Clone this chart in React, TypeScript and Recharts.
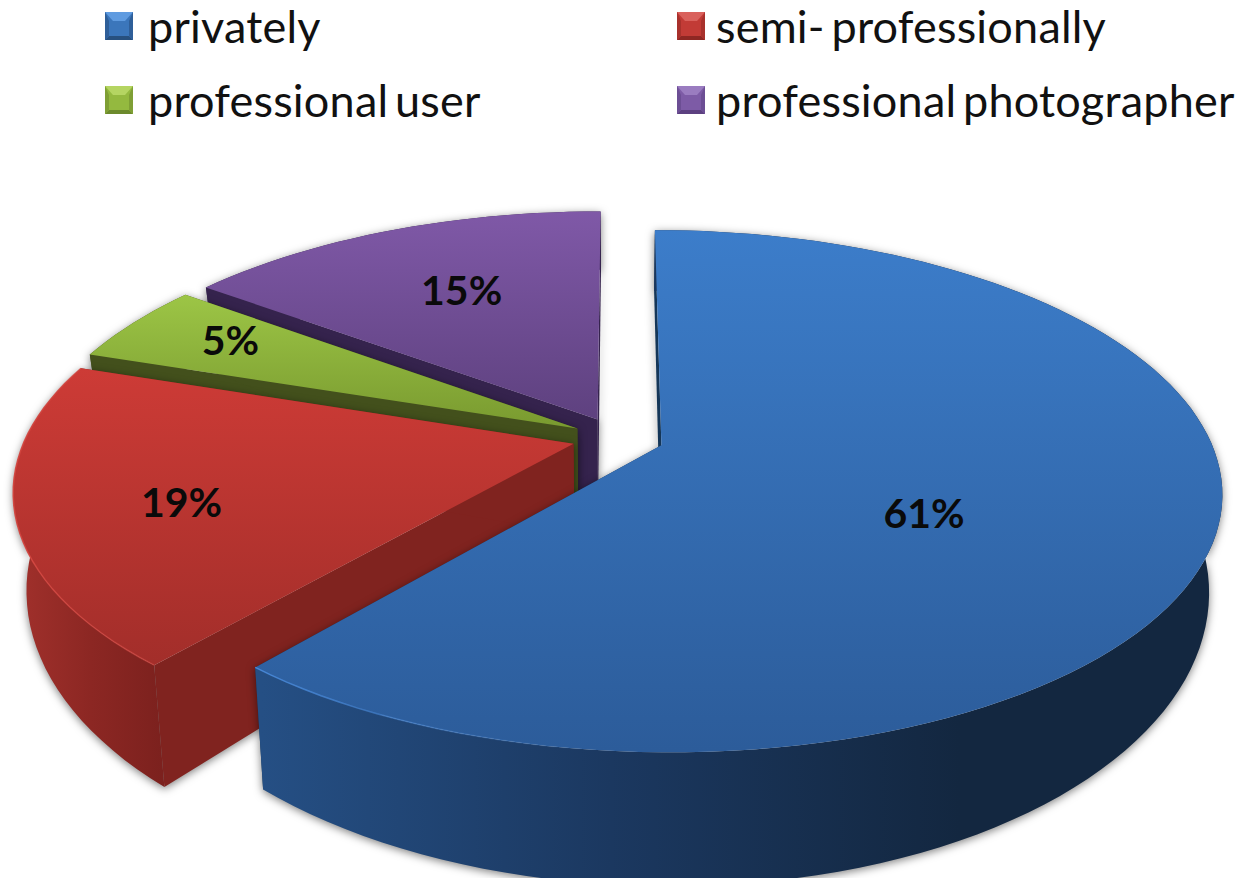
import React from "react";
import { PieChart, Pie, Legend } from "recharts";

const sliceNames = ["professional photographer", "professional user", "semi- professionally", "privately"];
const sliceValues = [14.83, 5.07, 18.85, 61.25];
const legendNames = ["privately", "semi- professionally", "professional user", "professional photographer"];

const chartData = sliceNames.map((name, i) => ({ name, value: sliceValues[i] }));

type Theme = {
  topA: string; topB: string; yA: number; yB: number;
  wallA: string; wallB: string; wallC: string; xA: number; xC: number;
  cut: string; rim?: string;
  labelReach: number; labelDx: number; labelDy: number;
  icon: [string, string, string, string];
};

const themes: Record<string, Theme> = {
  "professional photographer": {
    topA: "#8059a8", topB: "#5e417f", yA: 208, yB: 420,
    wallA: "#35234d", wallB: "#35234d", wallC: "#35234d", xA: 200, xC: 600,
    cut: "#35234d", labelReach: 0.72, labelDx: 3, labelDy: -4,
    icon: ["#9a7cc0", "#7d5ba6", "#5c4080", "#6c4e94"],
  },
  "professional user": {
    topA: "#9dc646", topB: "#7a9b30", yA: 293, yB: 425,
    wallA: "#43501c", wallB: "#43501c", wallC: "#43501c", xA: 80, xC: 580,
    cut: "#43501c", labelReach: 0.85, labelDx: -1, labelDy: -7,
    icon: ["#b5d562", "#94b93f", "#6c8a2c", "#7f9f35"],
  },
  "semi- professionally": {
    topA: "#cd3b36", topB: "#a32e2a", yA: 368, yB: 662,
    wallA: "#a0302b", wallB: "#8c2723", wallC: "#7c211e", xA: 20, xC: 162,
    cut: "#80231f", rim: "#d4453f", labelReach: 0.81, labelDx: 8, labelDy: 7,
    icon: ["#d9615c", "#c23b36", "#8e2723", "#a8312c"],
  },
  privately: {
    topA: "#3c7dca", topB: "#2c5c9a", yA: 230, yB: 750,
    wallA: "#254f84", wallB: "#1b3860", wallC: "#132740", xA: 262, xC: 960,
    cut: "#143658", rim: "#4a8bdc", labelReach: 0.58, labelDx: -3, labelDy: 22,
    icon: ["#5f9be0", "#3b76bb", "#27507f", "#2f5f99"],
  },
};

const VERTICAL_RATIO = 0.457;
const PERSPECTIVE = 0.175;
const EXPLODE = 0.084;
const WALL_SCALE_X = 0.978;
const WALL_SCALE_Y = 1.14;
const WALL_DROP = 90;
const STEP_DEG = 2;

const rad = (d: number) => (d * Math.PI) / 180;

// Disc coordinates (unit radius, v pointing toward the viewer) to screen, top face.
function projectTop(cx: number, cy: number, R: number, u: number, v: number) {
  const k = 1 / (1 - PERSPECTIVE * v);
  return { x: cx + R * u * k, y: cy + R * VERTICAL_RATIO * v * k };
}
function toBottom(cx: number, cy: number, p: { x: number; y: number }) {
  return {
    x: cx + (p.x - cx) * WALL_SCALE_X,
    y: cy + (p.y - cy) * WALL_SCALE_Y + WALL_DROP,
  };
}
const dir = (theta: number) => ({ u: Math.sin(rad(theta)), v: -Math.cos(rad(theta)) });
const pathOf = (pts: { x: number; y: number }[], close = true) =>
  pts.map((p, i) => `${i ? "L" : "M"}${p.x.toFixed(1)} ${p.y.toFixed(1)}`).join(" ") + (close ? " Z" : "");

function Slice3D(props: any) {
  const { cx, cy, outerRadius: R, startAngle, endAngle, name, payload, index } = props;
  const theme = themes[payload?.name ?? name];
  // Recharts angles are counter-clockwise from 3 o'clock; convert to clockwise from 12 o'clock.
  const a = 90 - Math.max(startAngle, endAngle);
  const b = 90 - Math.min(startAngle, endAngle);
  const mid = dir((a + b) / 2);
  const ou = mid.u * EXPLODE;
  const ov = mid.v * EXPLODE;
  const apex = projectTop(cx, cy, R, ou, ov);
  const arc: { x: number; y: number }[] = [];
  const n = Math.max(2, Math.ceil((b - a) / STEP_DEG));
  for (let i = 0; i <= n; i++) {
    const d = dir(a + ((b - a) * i) / n);
    arc.push(projectTop(cx, cy, R, ou + d.u, ov + d.v));
  }
  const arcB = arc.map((p) => toBottom(cx, cy, p));
  const apexB = toBottom(cx, cy, apex);
  const topPath = pathOf([apex, ...arc]);
  const wallPath = pathOf([...arc, ...arcB.slice().reverse()]);
  const cutA = pathOf([apex, arc[0], arcB[0], apexB]);
  const cutB = pathOf([apex, arc[n], arcB[n], apexB]);
  const id = `slice-${index}`;
  const shadow = { filter: "drop-shadow(0px 2px 4px rgba(0,0,0,0.5))" };
  return (
    <g>
      <defs>
        <linearGradient id={`${id}-top`} gradientUnits="userSpaceOnUse" x1="0" x2="0" y1={theme.yA} y2={theme.yB}>
          <stop offset="0" stopColor={theme.topA} />
          <stop offset="1" stopColor={theme.topB} />
        </linearGradient>
        <linearGradient id={`${id}-wall`} gradientUnits="userSpaceOnUse" x1={theme.xA} x2={theme.xC} y1="0" y2="0">
          <stop offset="0" stopColor={theme.wallA} />
          <stop offset="0.5" stopColor={theme.wallB} />
          <stop offset="1" stopColor={theme.wallC} />
        </linearGradient>
        {theme.rim && (
          <linearGradient id={`${id}-rim`} gradientUnits="userSpaceOnUse" x1={theme.xA} x2={theme.xA + 330} y1="0" y2="0">
            <stop offset="0" stopColor={theme.rim} stopOpacity="0.9" />
            <stop offset="1" stopColor={theme.rim} stopOpacity="0" />
          </linearGradient>
        )}
      </defs>
      <g style={shadow}>
        <path d={cutA} fill={theme.cut} />
        <path d={cutB} fill={theme.cut} />
        <path d={wallPath} fill={`url(#${id}-wall)`} />
      </g>
      <path d={topPath} fill={`url(#${id}-top)`} />
      {theme.rim && (
        <path d={pathOf(arc, false)} fill="none" stroke={`url(#${id}-rim)`} strokeWidth={1.5} />
      )}
    </g>
  );
}

function SliceLabel(props: any) {
  const { cx, cy, outerRadius: R, midAngle, value, name, payload } = props;
  const theme = themes[payload?.name ?? name];
  const d = dir(90 - midAngle);
  const p = projectTop(cx, cy, R, d.u * theme.labelReach, d.v * theme.labelReach);
  return (
    <text
      x={p.x + theme.labelDx}
      y={p.y + theme.labelDy}
      textAnchor="middle"
      dominantBaseline="central"
      fontFamily="Lato, sans-serif"
      fontWeight={700}
      fontSize={41}
      fill="#0a0a0a"
    >
      {`${Math.round(value)}%`}
    </text>
  );
}

function BevelIcon({ colors }: { colors: [string, string, string, string] }) {
  const [light, mid, dark, side] = colors;
  return (
    <svg width={28} height={28} style={{ display: "block", flex: "none" }}>
      <rect width={28} height={28} fill={mid} />
      <polygon points="0,0 28,0 20,9 8,9" fill={light} />
      <polygon points="0,28 28,28 24,24 4,24" fill={dark} />
      <polygon points="0,0 4,9 4,24 0,28" fill={side} />
      <polygon points="28,0 24,9 24,24 28,28" fill={side} />
    </svg>
  );
}

function LegendGrid() {
  return (
    <div style={{ position: "relative", width: 1243, height: 140, fontFamily: "Lato, sans-serif", fontSize: 45, letterSpacing: 0.2, wordSpacing: -5, color: "#111" }}>
      {legendNames.map((label, i) => {
        const col = i % 2;
        const row = Math.floor(i / 2);
        return (
          <div key={label} style={{ position: "absolute", left: col ? 677 : 105, top: row ? 86 : 12, display: "flex", alignItems: "center", height: 28 }}>
            <BevelIcon colors={themes[label].icon} />
            <span style={{ marginLeft: col ? 11 : 15, whiteSpace: "nowrap", lineHeight: "28px" }}>{label}</span>
          </div>
        );
      })}
    </div>
  );
}

export default function App() {
  return (
    <div style={{ position: "fixed", left: 0, top: 0, width: 1243, height: 878, overflow: "hidden", background: "#fff" }}>
      <PieChart width={1243} height={878} margin={{ top: 0, right: 0, bottom: 0, left: 0 }}>
        <Legend
          verticalAlign="top"
          content={<LegendGrid />}
          wrapperStyle={{ position: "absolute", left: 0, top: 0, width: 1243, height: 140 }}
        />
        <Pie
          data={chartData}
          dataKey="value"
          nameKey="name"
          cx={618}
          cy={298}
          outerRadius={548}
          innerRadius={0}
          startAngle={90}
          endAngle={450}
          paddingAngle={0}
          stroke="none"
          isAnimationActive={false}
          shape={Slice3D}
          label={SliceLabel}
          labelLine={false}
        />
      </PieChart>
    </div>
  );
}
